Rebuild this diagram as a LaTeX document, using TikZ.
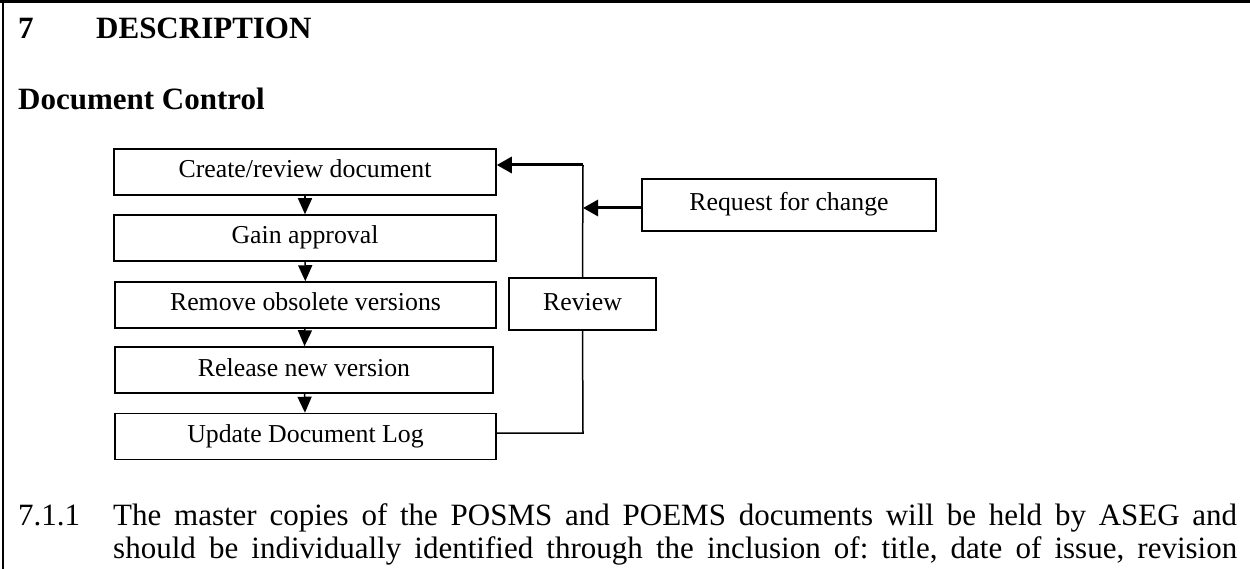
\documentclass[tikz,border=0pt]{standalone}
\usepackage{fontspec}
\setmainfont{Liberation Serif}
\usetikzlibrary{arrows.meta}
\begin{document}
\frenchspacing
\begin{tikzpicture}[x=1pt,y=-1pt,
  stepbox/.style={draw,line width=1.5pt,inner sep=0pt,minimum height=46pt,
    font=\fontsize{25.8}{30}\selectfont,text height=17pt,text depth=5pt},
  flow/.style={line width=1.5pt,-{Triangle[length=16pt,width=14pt]}},
  feed/.style={line width=3pt,-{Triangle[length=15pt,width=16pt]}},
  plain/.style={line width=1.5pt},
  big/.style={font=\fontsize{31}{36}\selectfont,inner sep=0pt,anchor=base west},
  bigb/.style={font=\fontsize{31}{36}\selectfont\bfseries,inner sep=0pt,anchor=base west}]
\useasboundingbox (0,0) rectangle (1250,569);
\fill[white] (0,0) rectangle (1250,569);
% frame
\draw[line width=3pt] (0,1.5) -- (1250,1.5);
\draw[line width=2.5pt] (3,0) -- (3,569);
% headings
\node[bigb] (num) at (18,39) {7};
\node[bigb] (desc) at (96,39) {DESCRIPTION};
\node[bigb] (dc) at (18,110) {Document Control};
% flow boxes
\node[stepbox,minimum width=382pt] (c1) at (305,172) {Create/review document};
\node[stepbox,minimum width=382pt] (c2) at (305,238) {Gain approval};
\node[stepbox,minimum width=381pt] (c3) at (305.5,305) {Remove obsolete versions};
\node[stepbox,minimum width=378pt] (c4) at (304,370) {Release new version};
\node[stepbox,minimum width=381pt] (c5) at (305.5,436.5) {Update Document Log};
\node[stepbox,minimum width=147pt,minimum height=52pt] (rev) at (582.5,304) {Review};
\node[stepbox,minimum width=294pt,minimum height=52pt] (req) at (789,205) {Request for change};
% flow arrows
\draw[flow] (c1) -- (c2);
\draw[flow] (c2) -- (c3);
\draw[flow] (c3) -- (c4);
\draw[flow] (c4) -- (c5);
% feedback loop
\coordinate (topc) at (583,165);
\coordinate (botc) at (583,433);
\draw[plain] (rev.north) -- (topc);
\draw[plain] (rev.south) -- (botc) -- (c5.east |- botc);
\draw[feed] (topc) -- (c1.east |- topc);
\draw[feed] ([yshift=-3pt]req.west) -- ([yshift=-3pt]req.west -| topc);
% body text
\node[big] (n711) at (18,525) {7.1.1};
\node[big] (l1) at (113,525) {\makebox[1124pt][s]{The master copies of the POSMS and POEMS documents will be held by ASEG and}};
\node[big] (l2) at (113,558) {\makebox[1124pt][s]{should be individually identified through the inclusion of: title, date of issue, revision}};
\end{tikzpicture}
\end{document}
